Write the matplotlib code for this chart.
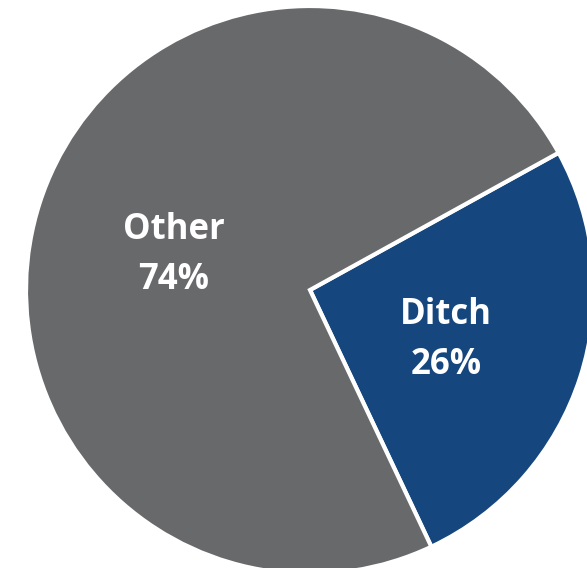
import matplotlib
matplotlib.use("Agg")
import matplotlib.pyplot as plt

labels = ["Ditch", "Other"]
shares = [26, 74]
colors = ["#15477E", "#68696B"]

W, H = 587, 568
fig = plt.figure(figsize=(W / 100, H / 100), dpi=100)
ax = fig.add_axes([0, 0, 1, 1])

cx, cy, r = 310, H - 290, 284
ax.pie(shares, colors=colors, startangle=28.9, counterclock=False,
       center=(cx, cy), radius=r, frame=True,
       wedgeprops=dict(edgecolor="white", linewidth=3))
ax.set_xlim(0, W)
ax.set_ylim(0, H)
ax.set_aspect("equal")
ax.axis("off")

# label positions in pixel space (x, y from top)
label_pos = [(446, 340), (174, 255)]
for lab, val, (x, y) in zip(labels, shares, label_pos):
    ax.text(x, H - y, f"{lab}\n{val}%", ha="center", va="center",
            color="white", fontsize=25, fontweight="bold",
            family="Open Sans", linespacing=1.52)

fig.savefig("out.png", dpi=100)
